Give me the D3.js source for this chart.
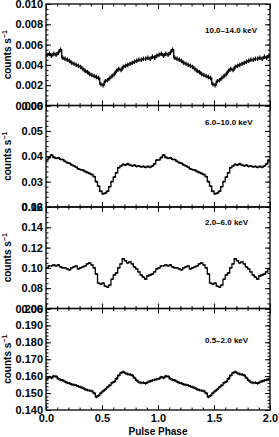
<!DOCTYPE html>
<html><head><meta charset="utf-8">
<script src="https://cdn.jsdelivr.net/npm/d3@7"></script>
<style>
body{margin:0;background:#fff;}
svg{display:block;font-family:"Liberation Sans",Arial,sans-serif;font-weight:bold;}
</style></head>
<body><svg id="c" width="279" height="437"></svg>
<script>
// phase bins (one cycle, 50 bins, repeated twice in the plot)
const binCount = 50;
const bandLabels = ["10.0\u201314.0 keV", "6.0\u201310.0 keV", "2.0\u20136.0 keV", "0.5\u20132.0 keV"];
const rate1014 = [0.0050,0.0051,0.0049,0.0051,0.0050,0.0052,0.0055,0.0047,0.0046,0.0045,
  0.0044,0.0042,0.0041,0.0040,0.0039,0.0038,0.0036,0.0034,0.0033,0.0031,
  0.0030,0.0029,0.0028,0.0027,0.0021,0.0020,0.0024,0.0025,0.0027,0.0029,
  0.0031,0.0034,0.0036,0.0035,0.0038,0.0039,0.0040,0.0041,0.0042,0.0043,
  0.0044,0.0045,0.0045,0.0046,0.0046,0.0047,0.0046,0.0048,0.0047,0.0049];
const rate610 = [0.0386,0.0395,0.0405,0.0396,0.0392,0.0394,0.0388,0.0387,0.0380,0.0375,
  0.0372,0.0366,0.0362,0.0357,0.0350,0.0347,0.0345,0.0340,0.0336,0.0332,
  0.0328,0.0320,0.0300,0.0282,0.0262,0.0252,0.0255,0.0262,0.0280,0.0300,
  0.0318,0.0335,0.0355,0.0362,0.0368,0.0365,0.0370,0.0366,0.0362,0.0365,
  0.0360,0.0362,0.0358,0.0360,0.0356,0.0360,0.0357,0.0362,0.0370,0.0385];
const rate26 = [0.100,0.102,0.102,0.103,0.102,0.103,0.101,0.100,0.100,0.099,
  0.098,0.100,0.101,0.102,0.099,0.100,0.101,0.102,0.104,0.105,
  0.103,0.100,0.094,0.085,0.084,0.085,0.082,0.081,0.083,0.089,
  0.093,0.095,0.100,0.104,0.109,0.107,0.105,0.106,0.104,0.101,
  0.099,0.096,0.093,0.091,0.089,0.092,0.093,0.094,0.096,0.099];
const rate052 = [0.1585,0.1595,0.1590,0.1600,0.1598,0.1585,0.1578,0.1575,0.1568,0.1560,
  0.1558,0.1552,0.1548,0.1545,0.1540,0.1535,0.1530,0.1522,0.1518,0.1515,
  0.1512,0.1500,0.1478,0.1485,0.1500,0.1512,0.1522,0.1535,0.1545,0.1560,
  0.1568,0.1585,0.1605,0.1620,0.1625,0.1618,0.1612,0.1610,0.1605,0.1590,
  0.1575,0.1565,0.1560,0.1562,0.1558,0.1565,0.1570,0.1575,0.1578,0.1582];
const rateErrors = [0.00022, 0.0004, 0.0008, 0.0008];
const yDomains = [[0, 0.010], [0.02, 0.06], [0.06, 0.16], [0.140, 0.200]];
const yTicks = [[0,0.002,0.004,0.006,0.008,0.010],[0.02,0.03,0.04,0.05,0.06],
  [0.06,0.08,0.10,0.12,0.14,0.16],[0.140,0.150,0.160,0.170,0.180,0.190,0.200]];
const yMinorStep = [0.0005, 0.002, 0.005, 0.002];
const yFormats = [".3f", ".2f", ".2f", ".3f"];
const xTicks = [0, 0.5, 1.0, 1.5, 2.0];
const xTickLabels = ["0.0", "0.5", "1.0", "1.5", "2.0"];
const series = [rate1014, rate610, rate26, rate052];
const labelOffsets = [29, 19, 18, 34];

const svg = d3.select("#c");
const L = 46, R = 270, T = 4, B = 410;
const panelH = (B - T) / 4;
const x = d3.scaleLinear().domain([0, 2]).range([L, R]);
const xMinor = d3.range(0, 2.0001, 0.1).filter(v => Math.abs(v*2 - Math.round(v*2)) > 1e-6);

series.forEach((vals, i) => {
  const top = T + i * panelH, bot = top + panelH;
  const y = d3.scaleLinear().domain(yDomains[i]).range([bot, top]);
  const g = svg.append("g");
  const data = [];
  for (let c = 0; c < 2; c++) vals.forEach((v, k) => data.push({x0: c + k / binCount, x1: c + (k + 1) / binCount, v}));
  const line = d3.line().x(d => x(d[0])).y(d => y(d[1]));
  const pts = [];
  data.forEach(d => { pts.push([d.x0, d.v]); pts.push([d.x1, d.v]); });
  g.append("path").attr("d", line(pts)).attr("fill", "none").attr("stroke", "#000").attr("stroke-width", 1.3);
  g.selectAll("line.err").data(data).join("line")
    .attr("x1", d => x((d.x0 + d.x1) / 2)).attr("x2", d => x((d.x0 + d.x1) / 2))
    .attr("y1", d => y(d.v - rateErrors[i])).attr("y2", d => y(d.v + rateErrors[i]))
    .attr("stroke", "#000").attr("stroke-width", 1.2);

  const minorVals = d3.range(yDomains[i][0], yDomains[i][1] + 1e-9, yMinorStep[i]);
  const fmt = d3.format(yFormats[i]);
  const aL = g.append("g").attr("transform", `translate(${L},0)`)
    .call(d3.axisLeft(y).tickValues(yTicks[i]).tickFormat(fmt).tickSize(-5).tickPadding(3));
  aL.selectAll("text").attr("font-size", 11).attr("font-weight", "bold").attr("fill", "#000");
  g.append("g").attr("transform", `translate(${L},0)`)
    .call(d3.axisLeft(y).tickValues(minorVals).tickFormat("").tickSize(-2.5));
  g.append("g").attr("transform", `translate(${R},0)`)
    .call(d3.axisRight(y).tickValues(yTicks[i]).tickFormat("").tickSize(-5));
  g.append("g").attr("transform", `translate(${R},0)`)
    .call(d3.axisRight(y).tickValues(minorVals).tickFormat("").tickSize(-2.5));
  const aB = g.append("g").attr("transform", `translate(0,${bot})`)
    .call(d3.axisBottom(x).tickValues(xTicks).tickFormat((d, j) => i === 3 ? xTickLabels[j] : "").tickSize(-5).tickPadding(4));
  aB.selectAll("text").attr("font-size", 11).attr("font-weight", "bold").attr("fill", "#000");
  g.append("g").attr("transform", `translate(0,${bot})`)
    .call(d3.axisBottom(x).tickValues(xMinor).tickFormat("").tickSize(-2.5));
  g.append("g").attr("transform", `translate(0,${top})`)
    .call(d3.axisTop(x).tickValues(xTicks).tickFormat("").tickSize(-5));
  g.append("g").attr("transform", `translate(0,${top})`)
    .call(d3.axisTop(x).tickValues(xMinor).tickFormat("").tickSize(-2.5));
  g.selectAll(".domain").remove();
  g.selectAll(".tick line").attr("stroke", "#000").attr("stroke-width", 1);
  g.append("rect").attr("x", L).attr("y", top).attr("width", R - L).attr("height", panelH)
    .attr("fill", "none").attr("stroke", "#000").attr("stroke-width", 1.3);

  g.append("text").attr("x", 205).attr("y", top + labelOffsets[i]).attr("font-size", 8)
    .attr("font-weight", "bold").text(bandLabels[i]);
  const yt = g.append("text").attr("transform", `translate(11,${(top + bot) / 2}) rotate(-90)`)
    .attr("text-anchor", "middle").attr("font-size", 10).attr("font-weight", "bold");
  yt.append("tspan").text("counts s");
  yt.append("tspan").attr("dy", -4).attr("font-size", 7).text("\u22121");
});

svg.append("text").attr("x", (L + R) / 2).attr("y", 435).attr("text-anchor", "middle")
  .attr("font-size", 10).attr("font-weight", "bold").text("Pulse Phase");
</script></body></html>
